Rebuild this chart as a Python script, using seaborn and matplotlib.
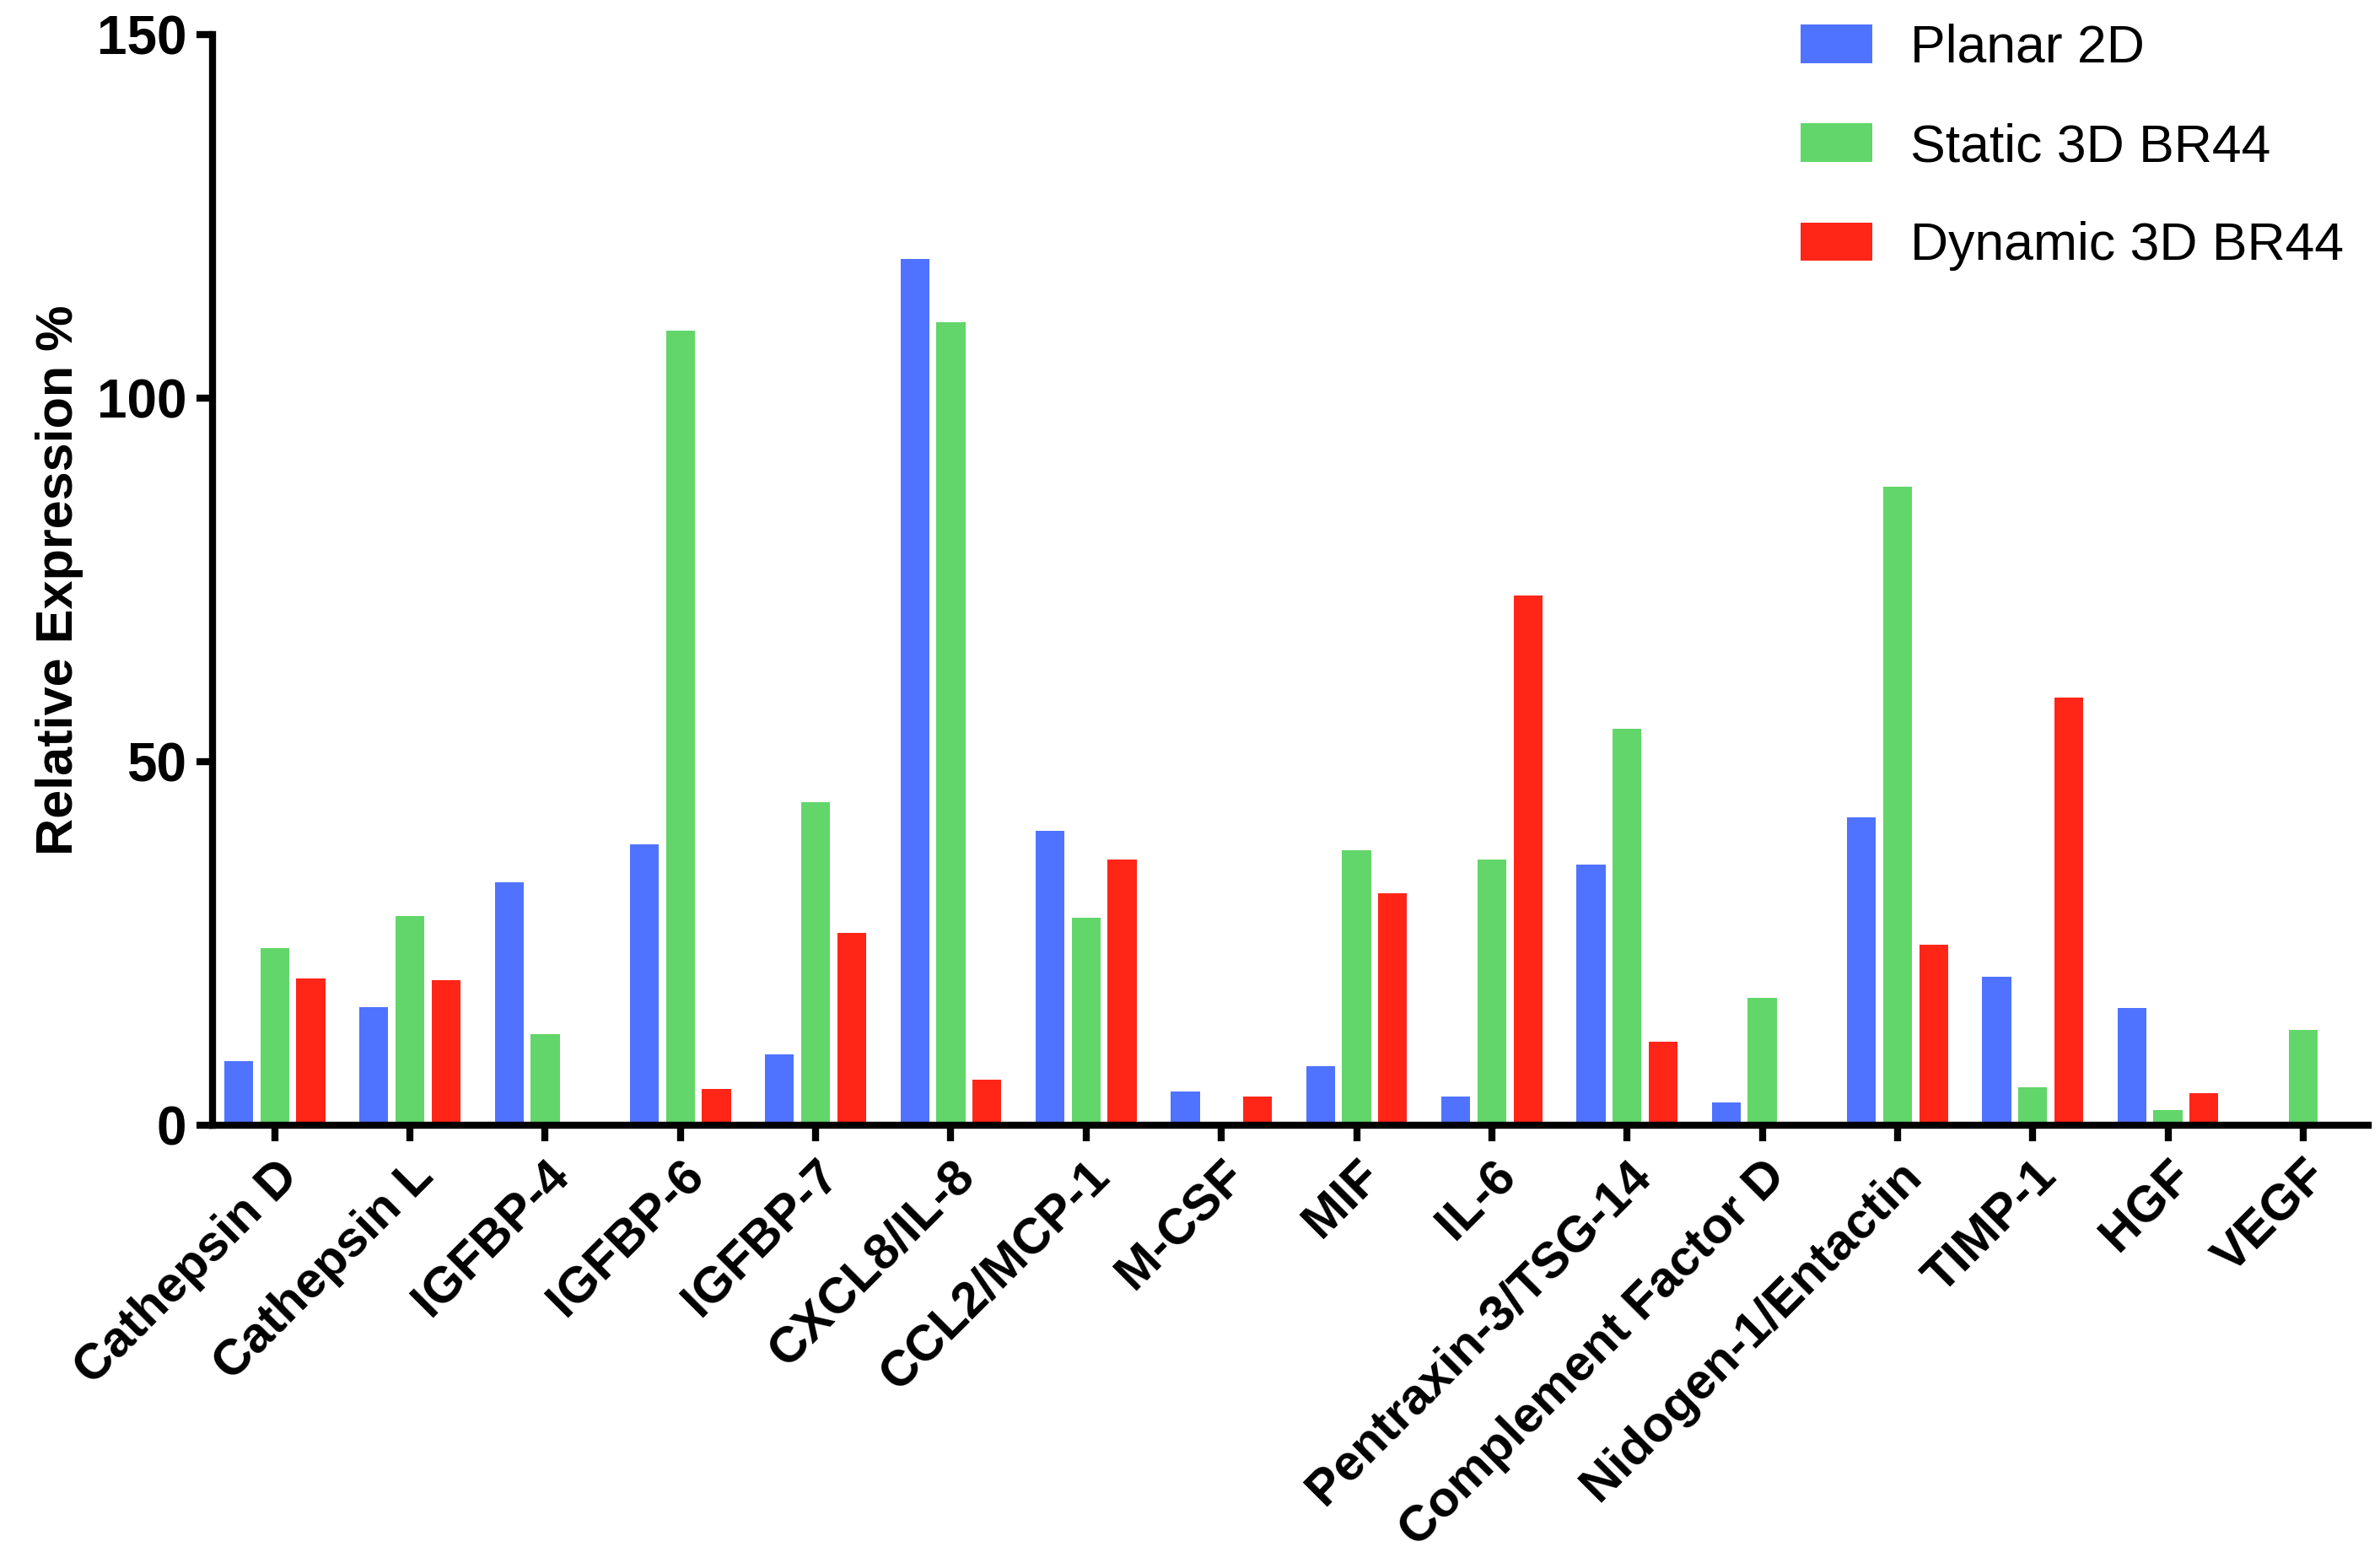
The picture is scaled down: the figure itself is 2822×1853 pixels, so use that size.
import matplotlib
matplotlib.use("Agg")
import matplotlib.pyplot as plt
import seaborn as sns
import pandas as pd
from matplotlib.patches import Patch

categories = ["Cathepsin D", "Cathepsin L", "IGFBP-4", "IGFBP-6", "IGFBP-7",
              "CXCL8/IL-8", "CCL2/MCP-1", "M-CSF", "MIF", "IL-6",
              "Pentraxin-3/TSG-14", "Complement Factor D", "Nidogen-1/Entactin",
              "TIMP-1", "HGF", "VEGF"]
series_names = ["Planar 2D", "Static 3D BR44", "Dynamic 3D BR44"]
planar_2d = [8.8, 16.3, 33.4, 38.6, 9.8, 119.1, 40.5, 4.6, 8.1, 4.0, 35.9, 3.1, 42.4, 20.4, 16.1, 0.0]
static_3d = [24.4, 28.8, 12.5, 109.3, 44.4, 110.4, 28.6, 0.0, 37.8, 36.5, 54.5, 17.5, 87.8, 5.2, 2.1, 13.1]
dynamic_3d = [20.2, 20.0, 0.0, 5.0, 26.5, 6.3, 36.5, 4.0, 31.9, 72.8, 11.5, 0.0, 24.8, 58.8, 4.4, 0.0]
colors = ["#4F73FF", "#62D66A", "#FF2618"]
y_ticks = [0, 50, 100, 150]

rows = []
for name, vals in zip(series_names, [planar_2d, static_3d, dynamic_3d]):
    for c, v in zip(categories, vals):
        rows.append({"Protein": c, "Condition": name, "Value": v})
df = pd.DataFrame(rows)

sns.set_style("ticks")
plt.rcParams["font.family"] = ["Liberation Sans", "DejaVu Sans"]
plt.rcParams["text.color"] = "black"
plt.rcParams["axes.labelcolor"] = "black"
plt.rcParams["xtick.color"] = "black"
plt.rcParams["ytick.color"] = "black"

fig = plt.figure(figsize=(28.22, 18.53), dpi=100)
ax = fig.add_axes([0.0893, 0.280, 0.9057, 0.698])

sns.barplot(data=df, x="Protein", y="Value", hue="Condition", order=categories,
            hue_order=series_names, palette=colors, width=0.8, gap=0.2,
            errorbar=None, linewidth=0, edgecolor="none", saturation=1,
            ax=ax, legend=False)

ax.set_xlim(-0.46, 15.48)
ax.set_ylim(0, 150)
ax.set_yticks(y_ticks)
ax.set_yticklabels([str(t) for t in y_ticks], fontsize=46, fontweight="bold")
ax.set_xticks(range(len(categories)))
ax.set_xticklabels(categories, fontsize=43, fontweight="bold", rotation=45,
                   ha="right", rotation_mode="anchor")
ax.set_xlabel("")
ax.set_ylabel("Relative Expression %", fontsize=44, fontweight="bold")
ax.yaxis.set_label_coords(-0.060, 0.5)

for s in ["top", "right"]:
    ax.spines[s].set_visible(False)
for s in ["left", "bottom"]:
    ax.spines[s].set_linewidth(6)
    ax.spines[s].set_color("black")
ax.tick_params(axis="both", which="major", length=14, width=6, color="black", pad=8)
ax.tick_params(axis="x", pad=9)

handles = [Patch(facecolor=c, edgecolor="none", label=n) for c, n in zip(colors, series_names)]
fig.legend(handles=handles, loc="upper left", bbox_to_anchor=(2135 / 2822, 1 - 28 / 1853),
           frameon=False, fontsize=45, handlelength=1.36, handleheight=0.75,
           handletextpad=0.72, labelspacing=0.93, borderpad=0, borderaxespad=0)

fig.savefig("out.png", dpi=100)
